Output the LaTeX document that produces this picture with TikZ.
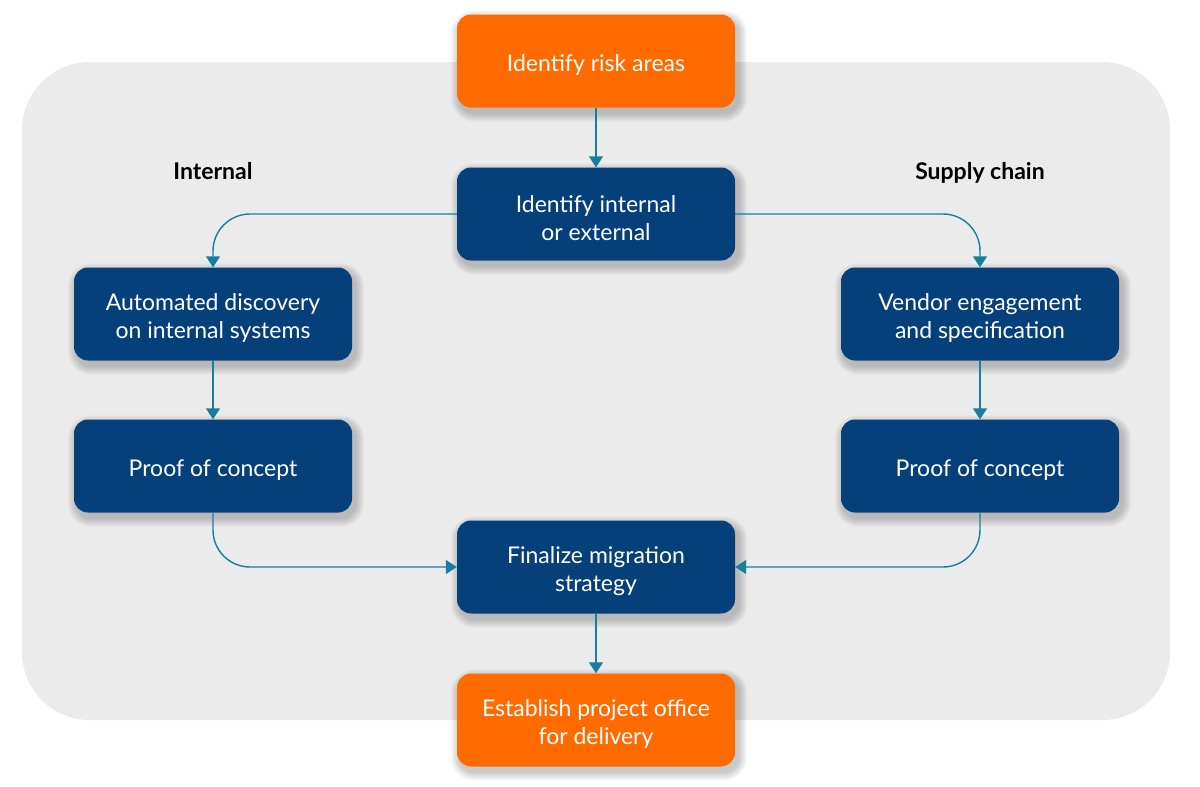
\documentclass[tikz,border=0pt]{standalone}
\usepackage{fontspec}
\setmainfont{Lato}
\usetikzlibrary{arrows.meta,backgrounds}
\definecolor{orangebox}{HTML}{FF6B00}
\definecolor{navybox}{HTML}{06407A}
\definecolor{arrowc}{HTML}{187E9E}
\definecolor{bgpanel}{HTML}{EBEBEB}
\begin{document}
\begin{tikzpicture}[x=1pt,y=1pt,
  box/.style={rounded corners=14pt, minimum width=278pt, minimum height=93pt,
    inner sep=0pt},
  txt/.style={align=center, text=white, inner sep=0pt, yshift=-4pt,
    font=\fontsize{23}{28}\selectfont},
  obox/.style={box, fill=orangebox},
  nbox/.style={box, fill=navybox},
  lbl/.style={font=\fontsize{23}{26}\selectfont\bfseries, text=black, anchor=base, inner sep=0pt},
  arr/.style={draw=arrowc, line width=1.4pt, -{Triangle[width=14pt,length=11pt]}}
]
\useasboundingbox (0,0) rectangle (1200,-787);

\node[obox, label={[txt]center:Identify risk areas}] (risk) at (596,-61) {};
\node[nbox, label={[txt]center:Identify internal\\or external}] (ident) at (596,-214) {};
\node[nbox, label={[txt]center:Automated discovery\\on internal systems}] (auto) at (213,-314) {};
\node[nbox, label={[txt]center:Proof of concept}] (poc1) at (213,-466) {};
\node[nbox, label={[txt]center:Vendor engagement\\and specification}] (vend) at (980,-314) {};
\node[nbox, label={[txt]center:Proof of concept}] (poc2) at (980,-466) {};
\node[nbox, label={[txt]center:Finalize migration\\strategy}] (fin) at (596,-567) {};
\node[obox, label={[txt]center:Establish project office\\for delivery}] (est) at (596,-720) {};

\begin{scope}[on background layer]
\fill[white] (0,0) rectangle (1200,-787);
\fill[bgpanel, rounded corners=68pt] (22,-62) rectangle (1170,-720);
\foreach \n in {risk,ident,auto,poc1,vend,poc2,fin,est}{
  \foreach \i in {1,...,9}{
    \fill[black, opacity=0.022, rounded corners=14pt+\i pt]
      ([shift={(3-\i,-5-\i)}]\n.south west) rectangle ([shift={(3+\i,-5+\i)}]\n.north east);
  }
}
\end{scope}

\node[lbl] (lint) at (213,-179) {Internal};
\node[lbl] (lsup) at (980,-179) {Supply chain};

\draw[arr] (risk) -- (ident);
\draw[arr, rounded corners=37pt] (ident.west) -| (auto.north);
\draw[arr, rounded corners=37pt] (ident.east) -| (vend.north);
\draw[arr] (auto) -- (poc1);
\draw[arr] (vend) -- (poc2);
\draw[arr, rounded corners=37pt] (poc1.south) |- (fin.west);
\draw[arr, rounded corners=37pt] (poc2.south) |- (fin.east);
\draw[arr] (fin) -- (est);
\end{tikzpicture}
\end{document}
